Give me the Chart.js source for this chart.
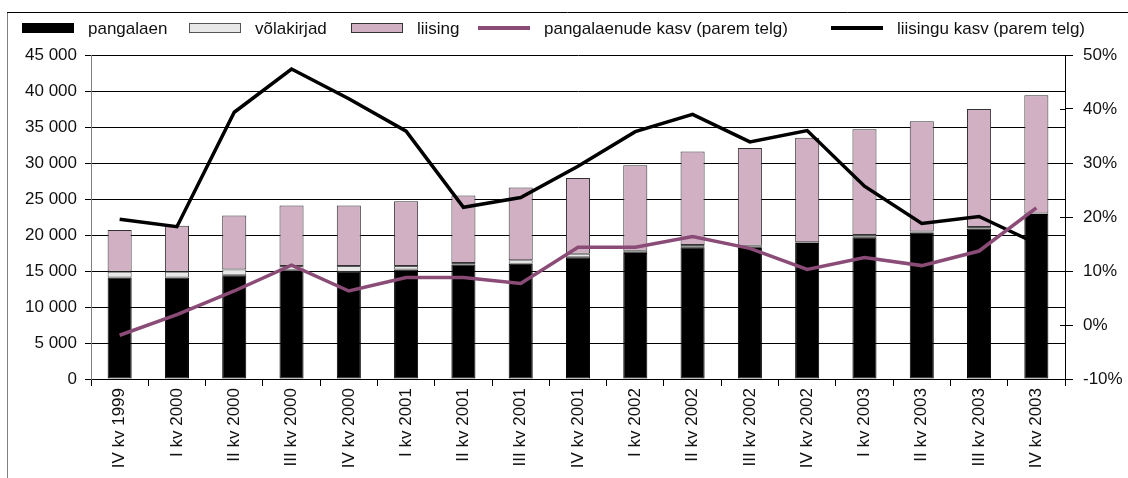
<!DOCTYPE html>
<html>
<head>
<meta charset="utf-8">
<script src="https://cdn.jsdelivr.net/npm/chart.js@4.4.1/dist/chart.umd.min.js"></script>
<style>
  html, body { margin: 0; padding: 0; background: #fff; }
  canvas { display: block; }
</style>
</head>
<body>
<canvas id="chart" width="1128" height="478"></canvas>
<script>
// quarters on the x axis
const categories = [
  'IV kv 1999', 'I kv 2000', 'II kv 2000', 'III kv 2000', 'IV kv 2000',
  'I kv 2001', 'II kv 2001', 'III kv 2001', 'IV kv 2001',
  'I kv 2002', 'II kv 2002', 'III kv 2002', 'IV kv 2002',
  'I kv 2003', 'II kv 2003', 'III kv 2003', 'IV kv 2003'
];

// stacked bars (left axis)
const pangalaen  = [14100, 14100, 14400, 15100, 14900, 15200, 15900, 16000, 16900, 17500, 18300, 18200, 18900, 19700, 20300, 20900, 22900];
const volakirjad = [800, 800, 800, 600, 800, 500, 200, 500, 500, 300, 300, 300, 100, 300, 200, 200, 100];
const liising    = [5800, 6400, 7500, 8400, 8400, 9000, 9400, 10100, 10500, 11900, 13000, 13600, 14500, 14700, 15300, 16400, 16400];

// growth lines in % (right axis)
const pangalaenKasv = [-1.9, 1.9, 6.3, 11.1, 6.3, 8.8, 8.8, 7.7, 14.4, 14.4, 16.4, 14.2, 10.3, 12.5, 11.0, 13.7, 21.7];
const liisinguKasv  = [19.6, 18.2, 39.4, 47.4, 41.9, 35.9, 21.8, 23.6, 29.4, 35.8, 39.0, 33.9, 36.0, 25.7, 18.8, 20.1, 15.1];

const fontFamily = '"Liberation Sans", Arial, sans-serif';
const textColor = '#111';
const fmtThousands = v => String(v).replace(/\B(?=(\d{3})+(?!\d))/g, ' ');

// Excel style chart-area frame (only left and top edges are visible)
const framePlugin = {
  id: 'frame',
  beforeDraw(chart) {
    const c = chart.ctx;
    c.save();
    c.lineWidth = 1;
    c.strokeStyle = '#808080';
    c.beginPath(); c.moveTo(7.5, 478); c.lineTo(7.5, 12.5); c.stroke();
    c.strokeStyle = '#000';
    c.beginPath(); c.moveTo(7, 12.5); c.lineTo(1128, 12.5); c.stroke();
    c.restore();
  }
};

// right axis ticks cross the axis line, add the inner half
const crossTicksPlugin = {
  id: 'crossTicks',
  afterDraw(chart) {
    const s = chart.scales.y1;
    const c = chart.ctx;
    c.save();
    c.strokeStyle = '#000';
    c.lineWidth = 1;
    s.ticks.forEach(t => {
      const y = Math.round(s.getPixelForValue(t.value)) + 0.5;
      c.beginPath(); c.moveTo(s.left - 5, y); c.lineTo(s.left, y); c.stroke();
    });
    c.restore();
  }
};

// legend drawn by hand so boxes/lines look like the Excel one
const legendX = [22, 189, 351, 478, 831];
const legendPlugin = {
  id: 'excelLegend',
  afterDraw(chart) {
    const c = chart.ctx;
    const y = 28;
    c.save();
    c.font = '17px ' + fontFamily;
    c.textBaseline = 'middle';
    chart.data.datasets.forEach((ds, i) => {
      const x = legendX[i];
      if (ds.type === 'line') {
        c.strokeStyle = ds.borderColor;
        c.lineWidth = 4;
        c.beginPath(); c.moveTo(x, y); c.lineTo(x + 52, y); c.stroke();
      } else {
        c.fillStyle = ds.backgroundColor;
        c.fillRect(x, y - 5, 52, 10);
        c.strokeStyle = ds.borderColor;
        c.lineWidth = 1;
        c.strokeRect(x + 0.5, y - 4.5, 51, 9);
      }
      c.fillStyle = textColor;
      c.fillText(ds.label, x + 66, y + 1);
    });
    c.restore();
  }
};

const tickFont = { family: fontFamily, size: 17 };

new Chart(document.getElementById('chart'), {
  type: 'bar',
  data: {
    labels: categories,
    datasets: [
      { label: 'pangalaen', data: pangalaen, backgroundColor: '#000', borderColor: '#000', borderWidth: 1, borderSkipped: false, order: 1 },
      { label: 'võlakirjad', data: volakirjad, backgroundColor: '#e8e8e8', borderColor: '#555', borderWidth: 1, borderSkipped: false, order: 1 },
      { label: 'liising', data: liising, backgroundColor: '#d1b0c3', borderColor: '#333', borderWidth: 1, borderSkipped: false, order: 1 },
      { type: 'line', label: 'pangalaenude kasv (parem telg)', data: pangalaenKasv, yAxisID: 'y1', borderColor: '#8a4b76', borderWidth: 3.5, pointRadius: 0, tension: 0, fill: false, order: 0 },
      { type: 'line', label: 'liisingu kasv (parem telg)', data: liisinguKasv, yAxisID: 'y1', borderColor: '#000', borderWidth: 3.5, pointRadius: 0, tension: 0, fill: false, order: 0 }
    ]
  },
  options: {
    responsive: false,
    animation: false,
    barPercentage: 0.42,
    categoryPercentage: 1,
    layout: { padding: { top: 55, left: 0, right: 0, bottom: 0 } },
    plugins: {
      legend: { display: false },
      tooltip: { enabled: false }
    },
    scales: {
      x: {
        stacked: true,
        grid: { offset: true, drawOnChartArea: false, tickLength: 7, color: '#000' },
        border: { color: '#000' },
        ticks: { minRotation: 90, maxRotation: 90, autoSkip: false, padding: 2, font: tickFont, color: textColor },
        afterFit: s => { s.height = 99; }
      },
      y: {
        stacked: true,
        position: 'left',
        min: 0,
        max: 45000,
        ticks: { stepSize: 5000, padding: 8, font: tickFont, color: textColor, callback: v => fmtThousands(v) },
        grid: { color: '#000', tickLength: 6 },
        border: { color: '#808080' },
        afterFit: s => { s.width = 91; }
      },
      y1: {
        position: 'right',
        min: -10,
        max: 50,
        ticks: { stepSize: 10, padding: 10, font: tickFont, color: textColor, callback: v => v + '%' },
        grid: { drawOnChartArea: false, color: '#000', tickLength: 8 },
        border: { color: '#000' },
        afterFit: s => { s.width = 63; }
      }
    }
  },
  plugins: [framePlugin, crossTicksPlugin, legendPlugin]
});
</script>
</body>
</html>
